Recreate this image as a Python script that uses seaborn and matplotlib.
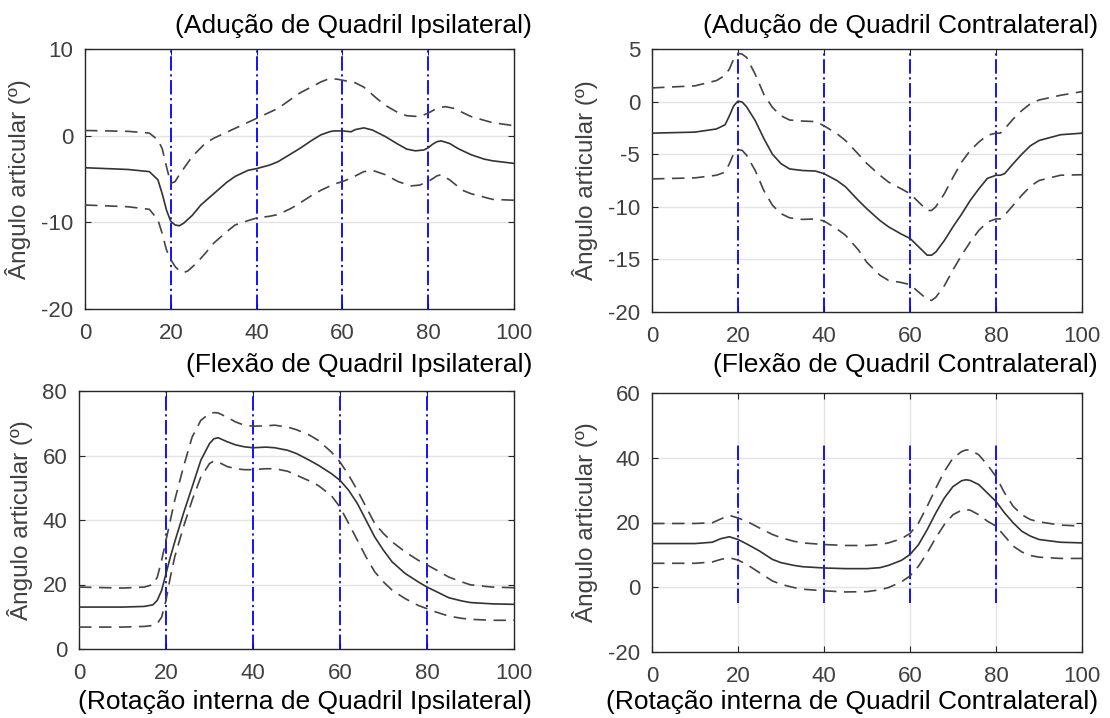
import numpy as np
import pandas as pd
import seaborn as sns
import matplotlib
matplotlib.use("Agg")
import matplotlib.pyplot as plt

sns.set_theme(style="white")
plt.rcParams['font.family'] = ['Liberation Sans', 'DejaVu Sans']
plt.rcParams['axes.unicode_minus'] = False

# ---------------- data ----------------
# Top-left: Adução de Quadril Ipsilateral
tl_x = [0, 10, 15, 17, 18, 19, 20, 21, 22, 23, 25, 27, 30, 33, 35, 38, 40, 43, 45, 48, 50, 53, 55, 57, 58, 60,
        62, 63, 65, 67, 70, 73, 75, 77, 79, 80, 81, 82, 83, 85, 87, 90, 93, 95, 100]
tl_mean = [-3.7, -3.9, -4.15, -5.1, -6.7, -8.6, -9.9, -10.3, -10.4, -10.1, -9.2, -8.0, -6.7, -5.4, -4.7, -4.0, -3.8,
           -3.4, -3.0, -2.1, -1.5, -0.5, 0.1, 0.45, 0.55, 0.55, 0.45, 0.7, 0.9, 0.65, -0.1, -1.0, -1.55, -1.75,
           -1.65, -1.4, -1.0, -0.7, -0.6, -0.9, -1.5, -2.2, -2.7, -2.9, -3.2]
tl_up_x = [0, 10, 15, 17, 18, 19, 20, 21, 22, 25, 28, 30, 35, 40, 45, 50, 55, 57, 59, 60, 63, 65, 68, 70, 73, 75,
           78, 80, 82, 84, 86, 90, 95, 100]
tl_up = [0.6, 0.5, 0.3, -0.5, -1.5, -3.6, -5.5, -5.3, -4.5, -2.4, -0.9, -0.3, 0.85, 2.0, 3.15, 4.9, 6.2, 6.6, 6.5,
         6.4, 6.1, 5.6, 4.3, 3.5, 2.65, 2.3, 2.2, 2.6, 3.15, 3.35, 3.15, 2.2, 1.5, 1.15]
tl_lo_x = [0, 10, 15, 17, 18, 19, 20, 21, 22, 23, 24, 26, 28, 30, 33, 35, 38, 40, 43, 45, 48, 50, 53, 55, 58, 60,
           62, 65, 67, 70, 73, 76, 78, 80, 82, 83, 85, 88, 90, 95, 100]
tl_lo = [-8.0, -8.2, -8.5, -9.7, -11.3, -13.2, -14.3, -15.1, -15.6, -15.8, -15.6, -14.7, -13.6, -12.4, -11.1,
         -10.3, -9.8, -9.5, -9.3, -9.1, -8.4, -7.8, -6.85, -6.3, -5.6, -5.3, -4.9, -4.15, -4.0, -4.5, -5.3, -5.8,
         -5.7, -5.3, -4.65, -4.5, -5.1, -6.3, -6.7, -7.35, -7.45]

# Top-right: Adução de Quadril Contralateral
tr_x = [0, 10, 15, 17, 18, 19, 20, 21, 22, 24, 26, 28, 30, 32, 35, 38, 40, 43, 45, 48, 50, 53, 55, 58, 60, 62,
        64, 65, 66, 68, 70, 72, 74, 76, 78, 80, 81, 82, 84, 86, 88, 90, 95, 100]
tr_mean = [-3.0, -2.9, -2.6, -2.2, -1.35, -0.4, 0.05, -0.05, -0.5, -1.8, -3.5, -5.0, -5.9, -6.4, -6.55, -6.6,
           -6.85, -7.5, -8.1, -9.4, -10.2, -11.3, -11.9, -12.6, -13.0, -13.8, -14.6, -14.6, -14.3, -13.2, -11.9,
           -10.7, -9.4, -8.3, -7.3, -7.0, -7.0, -6.85, -5.9, -5.0, -4.2, -3.7, -3.15, -3.0]
tr_up = [1.3, 1.5, 2.0, 2.5, 3.1, 4.05, 4.6, 4.5, 4.2, 2.6, 0.7, -0.55, -1.35, -1.75, -1.85, -1.9, -2.3, -3.05,
         -3.7, -5.0, -5.9, -7.0, -7.65, -8.3, -8.75, -9.55, -10.35, -10.35, -10.0, -8.75, -7.2, -5.75, -4.65,
         -3.85, -3.2, -3.0, -3.0, -2.6, -1.65, -0.85, -0.2, 0.15, 0.6, 0.95]
tr_lo = [-7.35, -7.25, -7.0, -6.7, -5.9, -4.95, -4.55, -4.65, -5.1, -6.55, -8.45, -9.85, -10.65, -11.05, -11.2,
         -11.15, -11.35, -12.1, -12.7, -14.1, -15.3, -16.5, -17.0, -17.2, -17.4, -18.1, -18.8, -18.9, -18.6,
         -17.5, -16.0, -14.6, -13.35, -12.25, -11.45, -11.15, -11.15, -10.8, -9.85, -8.9, -8.05, -7.5, -7.0,
         -6.95]

# Bottom-left: Flexão de Quadril Ipsilateral
bl_x = [0, 10, 15, 17, 18, 19, 20, 21, 22, 24, 26, 28, 30, 31, 32, 34, 36, 38, 40, 43, 45, 48, 50, 53, 55, 58,
        60, 62, 64, 66, 68, 70, 72, 75, 78, 80, 82, 85, 88, 90, 95, 100]
bl_mean = [13.0, 13.0, 13.2, 13.7, 15.1, 18.2, 23.4, 28.5, 33.2, 42.0, 50.2, 58.5, 63.7, 65.2, 65.5, 64.3, 63.3,
           62.7, 62.4, 62.6, 62.4, 61.6, 60.6, 58.5, 57.0, 54.4, 52.3, 49.2, 45.1, 39.9, 34.7, 30.6, 27.0, 23.4,
           20.8, 19.2, 17.9, 15.9, 14.9, 14.4, 14.0, 13.85]
bl_up = [19.2, 18.9, 19.2, 20.0, 22.3, 27.5, 33.7, 39.9, 46.1, 56.4, 65.7, 70.9, 73.0, 73.3, 73.2, 71.9, 70.4,
         69.4, 69.1, 69.2, 69.4, 68.8, 68.0, 66.3, 64.7, 61.1, 58.0, 53.9, 49.2, 44.0, 38.9, 35.8, 33.2, 30.1,
         27.5, 26.1, 24.6, 22.3, 20.8, 19.9, 19.2, 19.0]
bl_lo = [6.8, 6.8, 7.0, 7.3, 7.9, 9.9, 15.1, 22.3, 28.5, 37.8, 46.1, 53.3, 57.5, 58.3, 58.0, 56.6, 55.9, 55.6,
         55.6, 55.9, 55.9, 55.1, 53.9, 52.1, 50.7, 47.6, 44.0, 38.9, 33.7, 28.5, 23.9, 20.8, 18.2, 15.6, 13.5,
         12.5, 11.5, 10.2, 9.5, 9.2, 8.9, 8.9]

# Bottom-right: Flexão de Quadril Contralateral
br_x = [0, 10, 14, 16, 18, 20, 22, 25, 28, 30, 33, 35, 40, 45, 50, 53, 55, 58, 60, 62, 64, 66, 68, 70, 72, 73,
        74, 76, 78, 80, 82, 84, 86, 88, 90, 95, 100]
br_mean = [13.5, 13.5, 13.9, 15.0, 15.6, 14.75, 13.4, 11.2, 8.6, 7.6, 6.75, 6.35, 5.95, 5.75, 5.75, 6.05, 6.75,
           8.3, 10.1, 13.2, 17.8, 22.95, 27.6, 31.1, 32.9, 33.2, 33.0, 31.7, 29.1, 26.5, 22.95, 19.9, 17.3, 15.8,
           14.75, 13.9, 13.7]
br_up = [19.7, 19.7, 19.9, 21.1, 22.2, 21.4, 20.4, 18.3, 16.3, 15.3, 14.2, 13.7, 13.2, 12.9, 12.9, 13.2, 13.7,
         15.0, 16.6, 19.9, 25.0, 30.6, 35.8, 39.9, 41.9, 42.4, 42.4, 40.9, 37.8, 34.2, 29.1, 25.0, 22.4, 20.9,
         20.2, 19.2, 18.9]
br_lo = [7.4, 7.4, 7.8, 8.6, 9.1, 8.4, 7.1, 4.5, 1.95, 0.9, -0.1, -0.6, -1.1, -1.45, -1.35, -0.8, -0.1, 1.65,
         3.5, 6.55, 10.65, 15.3, 19.4, 22.4, 23.8, 24.0, 23.8, 22.4, 20.4, 18.9, 15.8, 12.7, 10.9, 9.8, 9.3, 8.9,
         8.9]

event_x = [20, 40, 60, 80]
x_ticks = [0, 20, 40, 60, 80, 100]

titles_top = ["(Adução de Quadril Ipsilateral)", "(Adução de Quadril Contralateral)",
              "(Flexão de Quadril Ipsilateral)", "(Flexão de Quadril Contralateral)"]
titles_bottom = ["(Rotação interna de Quadril Ipsilateral)", "(Rotação interna de Quadril Contralateral)"]
ylabel = "Ângulo articular (º)"

# ---------------- figure ----------------
fig = plt.figure(figsize=(11.10, 7.18), dpi=100)
W, H = 1110, 718

def px_axes(l, t, r, b):
    return fig.add_axes([l / W, 1 - b / H, (r - l) / W, (b - t) / H])

axes = [px_axes(85, 49, 514, 309), px_axes(652, 49, 1082, 312),
        px_axes(79, 391, 514, 649), px_axes(652, 393, 1082, 652)]

panels = [
    (tl_x, tl_mean, tl_up_x, tl_up, tl_lo_x, tl_lo, (-20, 10), [-20, -10, 0, 10], (-20, 10), False),
    (tr_x, tr_mean, tr_x, tr_up, tr_x, tr_lo, (-20, 5), [-20, -15, -10, -5, 0, 5], (-20, 5), False),
    (bl_x, bl_mean, bl_x, bl_up, bl_x, bl_lo, (0, 80), [0, 20, 40, 60, 80], (0, 80), False),
    (br_x, br_mean, br_x, br_up, br_x, br_lo, (-20, 60), [-20, 0, 20, 40, 60], (-5, 44), True),
]

line_col = "#333333"
axis_col = "#262626"
tick_col = "#404040"
grid_col = "#e3e3e3"

for ax, (mx, my, ux, uy, lx, ly, ylim, yt, vspan, xgrid) in zip(axes, panels):
    ax.set_xlim(0, 100)
    ax.set_ylim(*ylim)
    ax.set_xticks(x_ticks)
    ax.set_yticks(yt)
    for y in yt[1:-1]:
        ax.axhline(y, color=grid_col, lw=1.0, zorder=0)
    if xgrid:
        for x in x_ticks[1:-1]:
            ax.axvline(x, color=grid_col, lw=1.0, zorder=0)
    for x in event_x:
        ax.plot([x, x], list(vspan), color="#0000ff", lw=1.3, linestyle=(0, (8, 2, 1.2, 2)), zorder=2)
    sns.lineplot(x=mx, y=my, ax=ax, color=line_col, lw=1.2, sort=False, zorder=3)
    sns.lineplot(x=ux, y=uy, ax=ax, color="#444444", lw=1.2, sort=False, zorder=3,
                 linestyle=(0, (7.5, 4.5)))
    sns.lineplot(x=lx, y=ly, ax=ax, color="#444444", lw=1.2, sort=False, zorder=3,
                 linestyle=(0, (7.5, 4.5)))
    for s in ax.spines.values():
        s.set_color(axis_col)
        s.set_linewidth(1.0)
        s.set_visible(True)
    ax.tick_params(direction="in", length=4, width=0.8, colors=axis_col, labelcolor=tick_col,
                   labelsize=16, top=True, right=True, bottom=True, left=True)
    ax.tick_params(axis="x", pad=10)
    ax.tick_params(axis="y", pad=8.5)
    ax.set_ylabel(ylabel, fontsize=17.5, color=tick_col, labelpad=7)
    ax.set_xlabel("")
    ax.set_facecolor("white")

# titles
tfs = 19
fig.text(532 / W, 1 - 33 / H, titles_top[0], ha="right", va="baseline", fontsize=tfs, color="black")
fig.text(1098 / W, 1 - 33 / H, titles_top[1], ha="right", va="baseline", fontsize=tfs, color="black")
fig.text(532 / W, 1 - 372 / H, titles_top[2], ha="right", va="baseline", fontsize=tfs, color="black")
fig.text(1098 / W, 1 - 372 / H, titles_top[3], ha="right", va="baseline", fontsize=tfs, color="black")
fig.text(532 / W, 1 - 709 / H, titles_bottom[0], ha="right", va="baseline", fontsize=tfs, color="black")
fig.text(1098 / W, 1 - 709 / H, titles_bottom[1], ha="right", va="baseline", fontsize=tfs, color="black")

fig.savefig("out.png", dpi=100, facecolor="white")
